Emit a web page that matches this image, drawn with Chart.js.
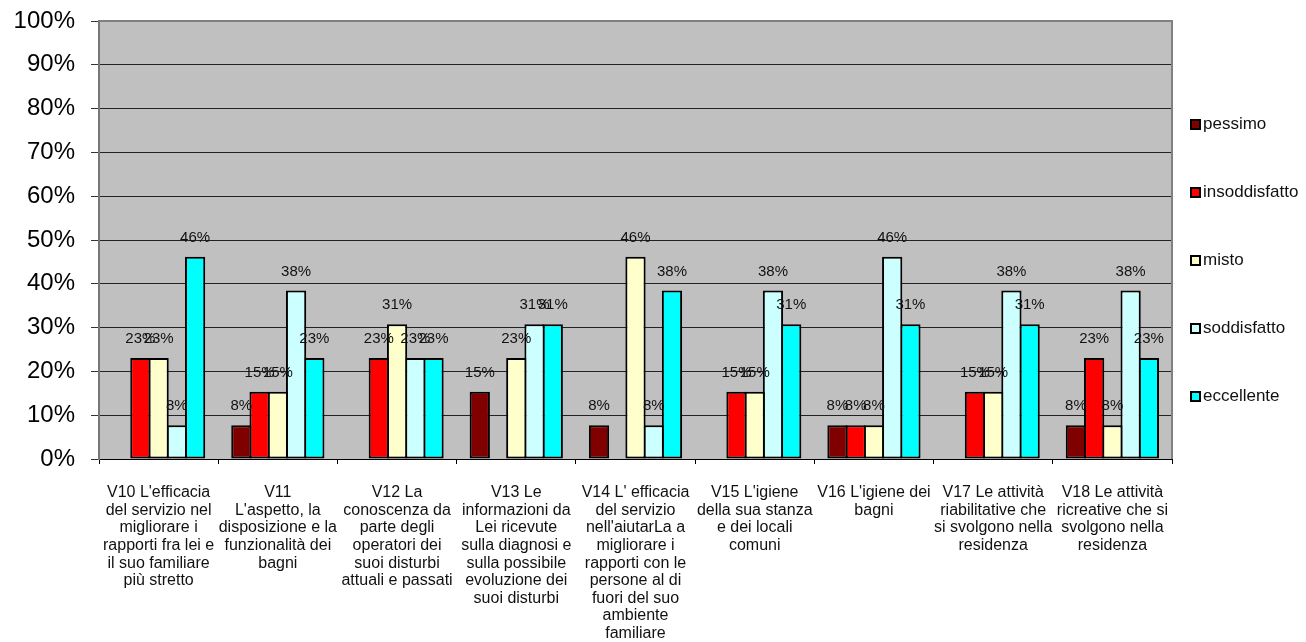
<!DOCTYPE html>
<html>
<head>
<meta charset="utf-8">
<script src="https://cdn.jsdelivr.net/npm/chart.js@4"></script>
<style>
  html, body { margin: 0; padding: 0; background: #fff; overflow: hidden; }
  #wrap { position: relative; width: 1306px; height: 642px; overflow: hidden; }
  #legend { position: absolute; left: 0; top: 0; font-family: "Liberation Sans", Arial, sans-serif; font-size: 17px; color: #111; }
  .item { position: absolute; left: 1190px; height: 20px; line-height: 20px; white-space: nowrap; }
  .box { display: inline-block; width: 11px; height: 11px; border: 2px solid #000; box-sizing: border-box; vertical-align: -1px; margin-right: 2px; }
</style>
</head>
<body>
<div id="wrap">
  <canvas id="chart" width="1306" height="660"></canvas>
  <div id="legend"></div>
</div>
<script>
const categories = [
  ["V10 L'efficacia", "del servizio nel", "migliorare i", "rapporti fra lei e", "il suo familiare", "più stretto"],
  ["V11", "L'aspetto, la", "disposizione e la", "funzionalità dei", "bagni"],
  ["V12 La", "conoscenza da", "parte degli", "operatori dei", "suoi disturbi", "attuali e passati"],
  ["V13 Le", "informazioni da", "Lei ricevute", "sulla diagnosi e", "sulla possibile", "evoluzione dei", "suoi disturbi"],
  ["V14 L' efficacia", "del servizio", "nell'aiutarLa a", "migliorare i", "rapporti con le", "persone al di", "fuori del suo", "ambiente", "familiare"],
  ["V15 L'igiene", "della sua stanza", "e dei locali", "comuni"],
  ["V16 L'igiene dei", "bagni"],
  ["V17 Le attività", "riabilitative che", "si svolgono nella", "residenza"],
  ["V18 Le attività", "ricreative che si", "svolgono nella", "residenza"]
];

const seriesNames = ["pessimo", "insoddisfatto", "misto", "soddisfatto", "eccellente"];
const seriesColors = ["#800000", "#FF0000", "#FFFFCC", "#CCFFFF", "#00FFFF"];

const pessimo       = [0, 7.69, 0, 15.38, 7.69, 0, 7.69, 0, 7.69];
const insoddisfatto = [23.08, 15.38, 23.08, 0, 0, 15.38, 7.69, 15.38, 23.08];
const misto         = [23.08, 15.38, 30.77, 23.08, 46.15, 15.38, 7.69, 15.38, 7.69];
const soddisfatto   = [7.69, 38.46, 23.08, 30.77, 7.69, 38.46, 46.15, 38.46, 38.46];
const eccellente    = [46.15, 23.08, 23.08, 30.77, 38.46, 30.77, 30.77, 30.77, 23.08];

const yTicks = [0, 10, 20, 30, 40, 50, 60, 70, 80, 90, 100];

const allSeries = [pessimo, insoddisfatto, misto, soddisfatto, eccellente];

// gray plot background, frame on top/right and value labels above the bars
const plotDecor = {
  id: "plotDecor",
  beforeDraw(chart) {
    const a = chart.chartArea, ctx = chart.ctx;
    ctx.save();
    ctx.fillStyle = "#C0C0C0";
    ctx.fillRect(a.left, a.top, a.right - a.left, a.bottom - a.top);
    ctx.restore();
  },
  beforeDatasetsDraw(chart) {
    const a = chart.chartArea, ctx = chart.ctx;
    ctx.save();
    ctx.strokeStyle = "#808080";
    ctx.lineWidth = 2;
    ctx.beginPath();
    ctx.moveTo(a.left, a.top);
    ctx.lineTo(a.right, a.top);
    ctx.lineTo(a.right, a.bottom);
    ctx.stroke();
    ctx.restore();
  },
  afterDatasetsDraw(chart) {
    const ctx = chart.ctx;
    ctx.save();
    ctx.font = '15px "Liberation Sans", Arial, sans-serif';
    ctx.fillStyle = "#111";
    ctx.textAlign = "center";
    ctx.textBaseline = "middle";
    chart.data.datasets.forEach((ds, i) => {
      const meta = chart.getDatasetMeta(i);
      meta.data.forEach((bar, j) => {
        const v = ds.data[j];
        if (!v) return;
        ctx.fillText(Math.round(v) + "%", bar.x, bar.y - 19);
      });
    });
    ctx.restore();
  }
};

// bars overlap slightly so neighbours share one border line
const datasets = allSeries.map((data, i) => ({
  label: seriesNames[i],
  data,
  backgroundColor: seriesColors[i],
  borderColor: "#000",
  borderWidth: 2,
  borderSkipped: false,
  categoryPercentage: 0.765,
  barPercentage: 1.11
}));

new Chart(document.getElementById("chart"), {
  type: "bar",
  data: { labels: categories, datasets },
  plugins: [plotDecor],
  options: {
    responsive: false,
    animation: false,
    layout: { padding: { top: 0, right: 134, left: 0, bottom: 0 } },
    plugins: { legend: { display: false }, tooltip: { enabled: false } },
    scales: {
      x: {
        afterFit: s => { s.height = 660 - 459; },
        grid: { display: true, drawOnChartArea: false, drawTicks: true, tickLength: 5, color: "#000", offset: true },
        border: { display: true, color: "#000", width: 1 },
        ticks: {
          autoSkip: false, maxRotation: 0, minRotation: 0, padding: 20,
          color: "#111",
          font: { family: '"Liberation Sans", Arial, sans-serif', size: 16, lineHeight: 1.1 }
        }
      },
      y: {
        min: 0, max: 100,
        afterFit: s => { s.width = 99; s.paddingTop = 21; s.paddingBottom = 0; },
        afterBuildTicks: s => { s.ticks = yTicks.map(v => ({ value: v })); },
        grid: { color: "#222", lineWidth: 1, tickLength: 8, tickColor: "#333" },
        border: { display: true, color: "#777", width: 2 },
        ticks: {
          padding: 16,
          color: "#000",
          font: { family: '"Liberation Sans", Arial, sans-serif', size: 24 },
          callback: v => v + "%"
        }
      }
    }
  }
});

// legend on the right, one entry per series
const legend = document.getElementById("legend");
seriesNames.forEach((name, i) => {
  const el = document.createElement("div");
  el.className = "item";
  el.style.top = (114 + i * 68) + "px";
  el.innerHTML = `<span class="box" style="background:${seriesColors[i]}"></span>${name}`;
  legend.appendChild(el);
});
</script>
</body>
</html>
